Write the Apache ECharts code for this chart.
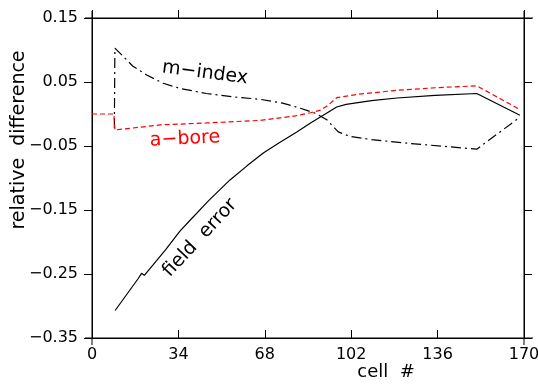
<!DOCTYPE html>
<html>
<head>
<meta charset="utf-8">
<script src="https://cdn.jsdelivr.net/npm/echarts@6/dist/echarts.min.js"></script>
<style>
  html, body { margin: 0; padding: 0; background: #fff; }
  #chart { width: 538px; height: 388px; }
</style>
</head>
<body>
<div id="chart"></div>
<script>
// values: [cell, relative difference]
const fieldError = [
  [9.1, -0.307], [18.2, -0.257], [19.5, -0.249], [20.6, -0.252], [29, -0.212],
  [34.6, -0.183], [38.6, -0.166], [46, -0.135], [54.3, -0.103], [61, -0.081],
  [67.4, -0.061], [74, -0.044], [80.6, -0.028], [86, -0.014], [91, -0.002],
  [96.3, 0.011], [100, 0.015], [110, 0.021], [120, 0.025], [135, 0.029],
  [151.4, 0.032], [168.4, -0.002]
];
const mIndex = [
  [8.8, -0.022], [9.0, 0.103], [12.3, 0.090], [16, 0.075], [21.5, 0.061],
  [28, 0.048], [34.6, 0.040], [45, 0.032], [55, 0.027], [66, 0.023],
  [75, 0.017], [82, 0.009], [88, 0.001], [92.4, -0.009], [96.9, -0.028],
  [101.5, -0.035], [110, -0.040], [125, -0.046], [140, -0.051], [151.4, -0.055], [168.4, -0.005]
];
const aBore = [
  [0, 0.0], [8.6, 0.0], [9.0, -0.025], [27, -0.017], [45, -0.014], [66, -0.010],
  [80, -0.003], [86, 0.002], [90, 0.006], [93, 0.014], [96.3, 0.0255],
  [105, 0.031], [120, 0.037], [135, 0.041], [151.4, 0.044], [168.4, 0.007]
];
const xTicks = [0, 34, 68, 102, 136, 170];
const yTicks = [-0.35, -0.25, -0.15, -0.05, 0.05, 0.15];

const font = '"DejaVu Sans", sans-serif';
const chart = echarts.init(document.getElementById('chart'));

const fmtY = v => {
  const s = v.toFixed(2);
  return s === '-0.00' ? '0.00' : s.replace('-', '\u2212');
};

const lbl = { color: '#000', fontFamily: font, fontSize: 16 };
const axLine = { show: true, onZero: false, lineStyle: { color: '#000', width: 1 } };

chart.setOption({
  animation: false,
  grid: { left: 92, right: 14, top: 18, bottom: 50, containLabel: false, outerBoundsMode: 'none' },
  xAxis: [
    {
      type: 'value', min: xTicks[0], max: xTicks[xTicks.length - 1], interval: 34,
      position: 'bottom',
      axisLine: axLine,
      axisTick: { show: true, inside: true, length: 8, lineStyle: { color: '#000' } },
      axisLabel: Object.assign({ margin: 9 }, lbl),
      splitLine: { show: false }
    },
    {
      type: 'value', min: xTicks[0], max: xTicks[xTicks.length - 1], interval: 34,
      position: 'top',
      axisLine: axLine,
      axisTick: { show: true, inside: false, length: 8, lineStyle: { color: '#000' } },
      axisLabel: { show: false },
      splitLine: { show: false }
    }
  ],
  yAxis: [
    {
      type: 'value', min: yTicks[0], max: yTicks[yTicks.length - 1], interval: 0.1,
      position: 'left',
      axisLine: axLine,
      axisTick: { show: true, inside: false, length: 8, lineStyle: { color: '#000' } },
      axisLabel: Object.assign({ margin: 14, formatter: fmtY }, lbl),
      splitLine: { show: false }
    },
    {
      type: 'value', min: yTicks[0], max: yTicks[yTicks.length - 1], interval: 0.1,
      position: 'right',
      axisLine: axLine,
      axisTick: { show: true, inside: false, length: 8, lineStyle: { color: '#000' } },
      axisLabel: { show: false },
      splitLine: { show: false }
    }
  ],
  series: [
    {
      name: 'field error', type: 'line', data: fieldError, showSymbol: false,
      lineStyle: { color: '#000', width: 1.2, type: 'solid' }
    },
    {
      name: 'm-index', type: 'line', data: mIndex, showSymbol: false,
      lineStyle: { color: '#000', width: 1.2, type: [10, 4, 2, 4] }
    },
    {
      name: 'a-bore', type: 'line', data: aBore, showSymbol: false,
      lineStyle: { color: '#ff0000', width: 1.2, type: [5, 3] }
    }
  ],
  graphic: [
    // axis lines run a little past the frame corners
    { type: 'line', shape: { x1: 85, y1: 18, x2: 533, y2: 18 }, style: { stroke: '#000', lineWidth: 1 } },
    { type: 'line', shape: { x1: 85, y1: 338, x2: 533, y2: 338 }, style: { stroke: '#000', lineWidth: 1 } },
    { type: 'line', shape: { x1: 92, y1: 11, x2: 92, y2: 345 }, style: { stroke: '#000', lineWidth: 1 } },
    { type: 'line', shape: { x1: 524, y1: 11, x2: 524, y2: 345 }, style: { stroke: '#000', lineWidth: 1 } },
    {
      type: 'text', x: 19, y: 140, rotation: Math.PI / 2,
      style: { text: 'relative  difference', fill: '#000', font: '19px ' + font, textAlign: 'center', textVerticalAlign: 'middle' }
    },
    {
      type: 'text', x: 386, y: 372,
      style: { text: 'cell  #', fill: '#000', font: '18px ' + font, textAlign: 'center', textVerticalAlign: 'middle' }
    },
    {
      type: 'text', x: 205, y: 73, rotation: -0.13,
      style: { text: 'm\u2212index', fill: '#000', font: '19px ' + font, textAlign: 'center', textVerticalAlign: 'middle' }
    },
    {
      type: 'text', x: 185, y: 139, rotation: 0.05,
      style: { text: 'a\u2212bore', fill: '#ff0000', font: '19px ' + font, textAlign: 'center', textVerticalAlign: 'middle' }
    },
    {
      type: 'text', x: 200, y: 238, rotation: 0.82,
      style: { text: 'field  error', fill: '#000', font: '19px ' + font, textAlign: 'center', textVerticalAlign: 'middle' }
    }
  ]
});
</script>
</body>
</html>
